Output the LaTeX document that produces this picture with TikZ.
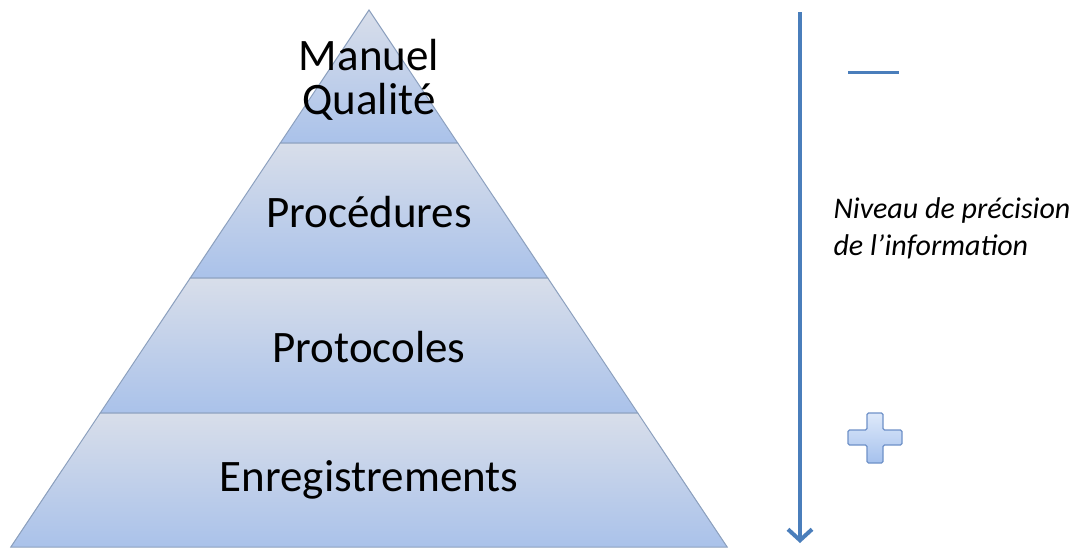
\documentclass[tikz,border=0pt]{standalone}
\usepackage{fontspec}
\setmainfont{Carlito}
\usepackage{tikz}
\usetikzlibrary{arrows.meta}
\definecolor{layertop}{RGB}{216,222,234}
\definecolor{layerbot}{RGB}{170,194,234}
\definecolor{layeredge}{RGB}{140,160,190}
\definecolor{officeblue}{RGB}{74,126,187}
\definecolor{plustop}{RGB}{222,233,250}
\definecolor{plusbot}{RGB}{165,193,237}
\definecolor{plusedge}{RGB}{110,145,200}
\newcommand{\bigtext}{\fontsize{45}{44}\selectfont}

\begin{document}
\begin{tikzpicture}[x=1pt, y=-1pt,
  layer/.style={top color=layertop, bottom color=layerbot, draw=layeredge, line width=1pt},
  level/.style={font=\bigtext, text=black, align=center},
  signline/.style={draw=officeblue, line width=3pt}]

\useasboundingbox (0,0) rectangle (1076,547);

% pyramid layers, apex at (369,10), sides of slope 2/3
\foreach \ya/\yb in {10/143, 143/278, 278/413, 413/547}
  \path[layer] ({369-(\ya-10)*0.667},\ya) -- ({369+(\ya-10)*0.667},\ya)
    -- ({369+(\yb-10)*0.667},\yb) -- ({369-(\yb-10)*0.667},\yb) -- cycle;

\draw(369,80) node[level] (manuel) {Manuel\\Qualit\'e};
\draw(369,212) node[level] (proc) {Proc\'edures};
\draw(369,347) node[level] (proto) {Protocoles};
\draw(369,480) node[level] (enreg) {Enregistrements};

% precision axis
\coordinate (axetop) at (800,12);
\coordinate (axebot) at (800,543);
\draw[officeblue, line width=4pt, -{Straight Barb[length=11pt, width=24pt, line width=4pt]}] (axetop) -- (axebot);

\draw(830,228) node[anchor=west, align=left, font=\fontsize{30}{37}\selectfont\itshape] (niveau) {Niveau de pr\'ecision\\de l'information};

% minus and plus signs
\draw[signline] (848,72) -- (899,72);
\draw[top color=plustop, bottom color=plusbot, draw=plusedge, line width=1.2pt, rounded corners=1.5pt]
  (867,413) -- (883,413) -- (883,430) -- (902,430) -- (902,445) -- (883,445)
  -- (883,463) -- (867,463) -- (867,445) -- (848,445) -- (848,430) -- (867,430) -- cycle;

\end{tikzpicture}
\end{document}
